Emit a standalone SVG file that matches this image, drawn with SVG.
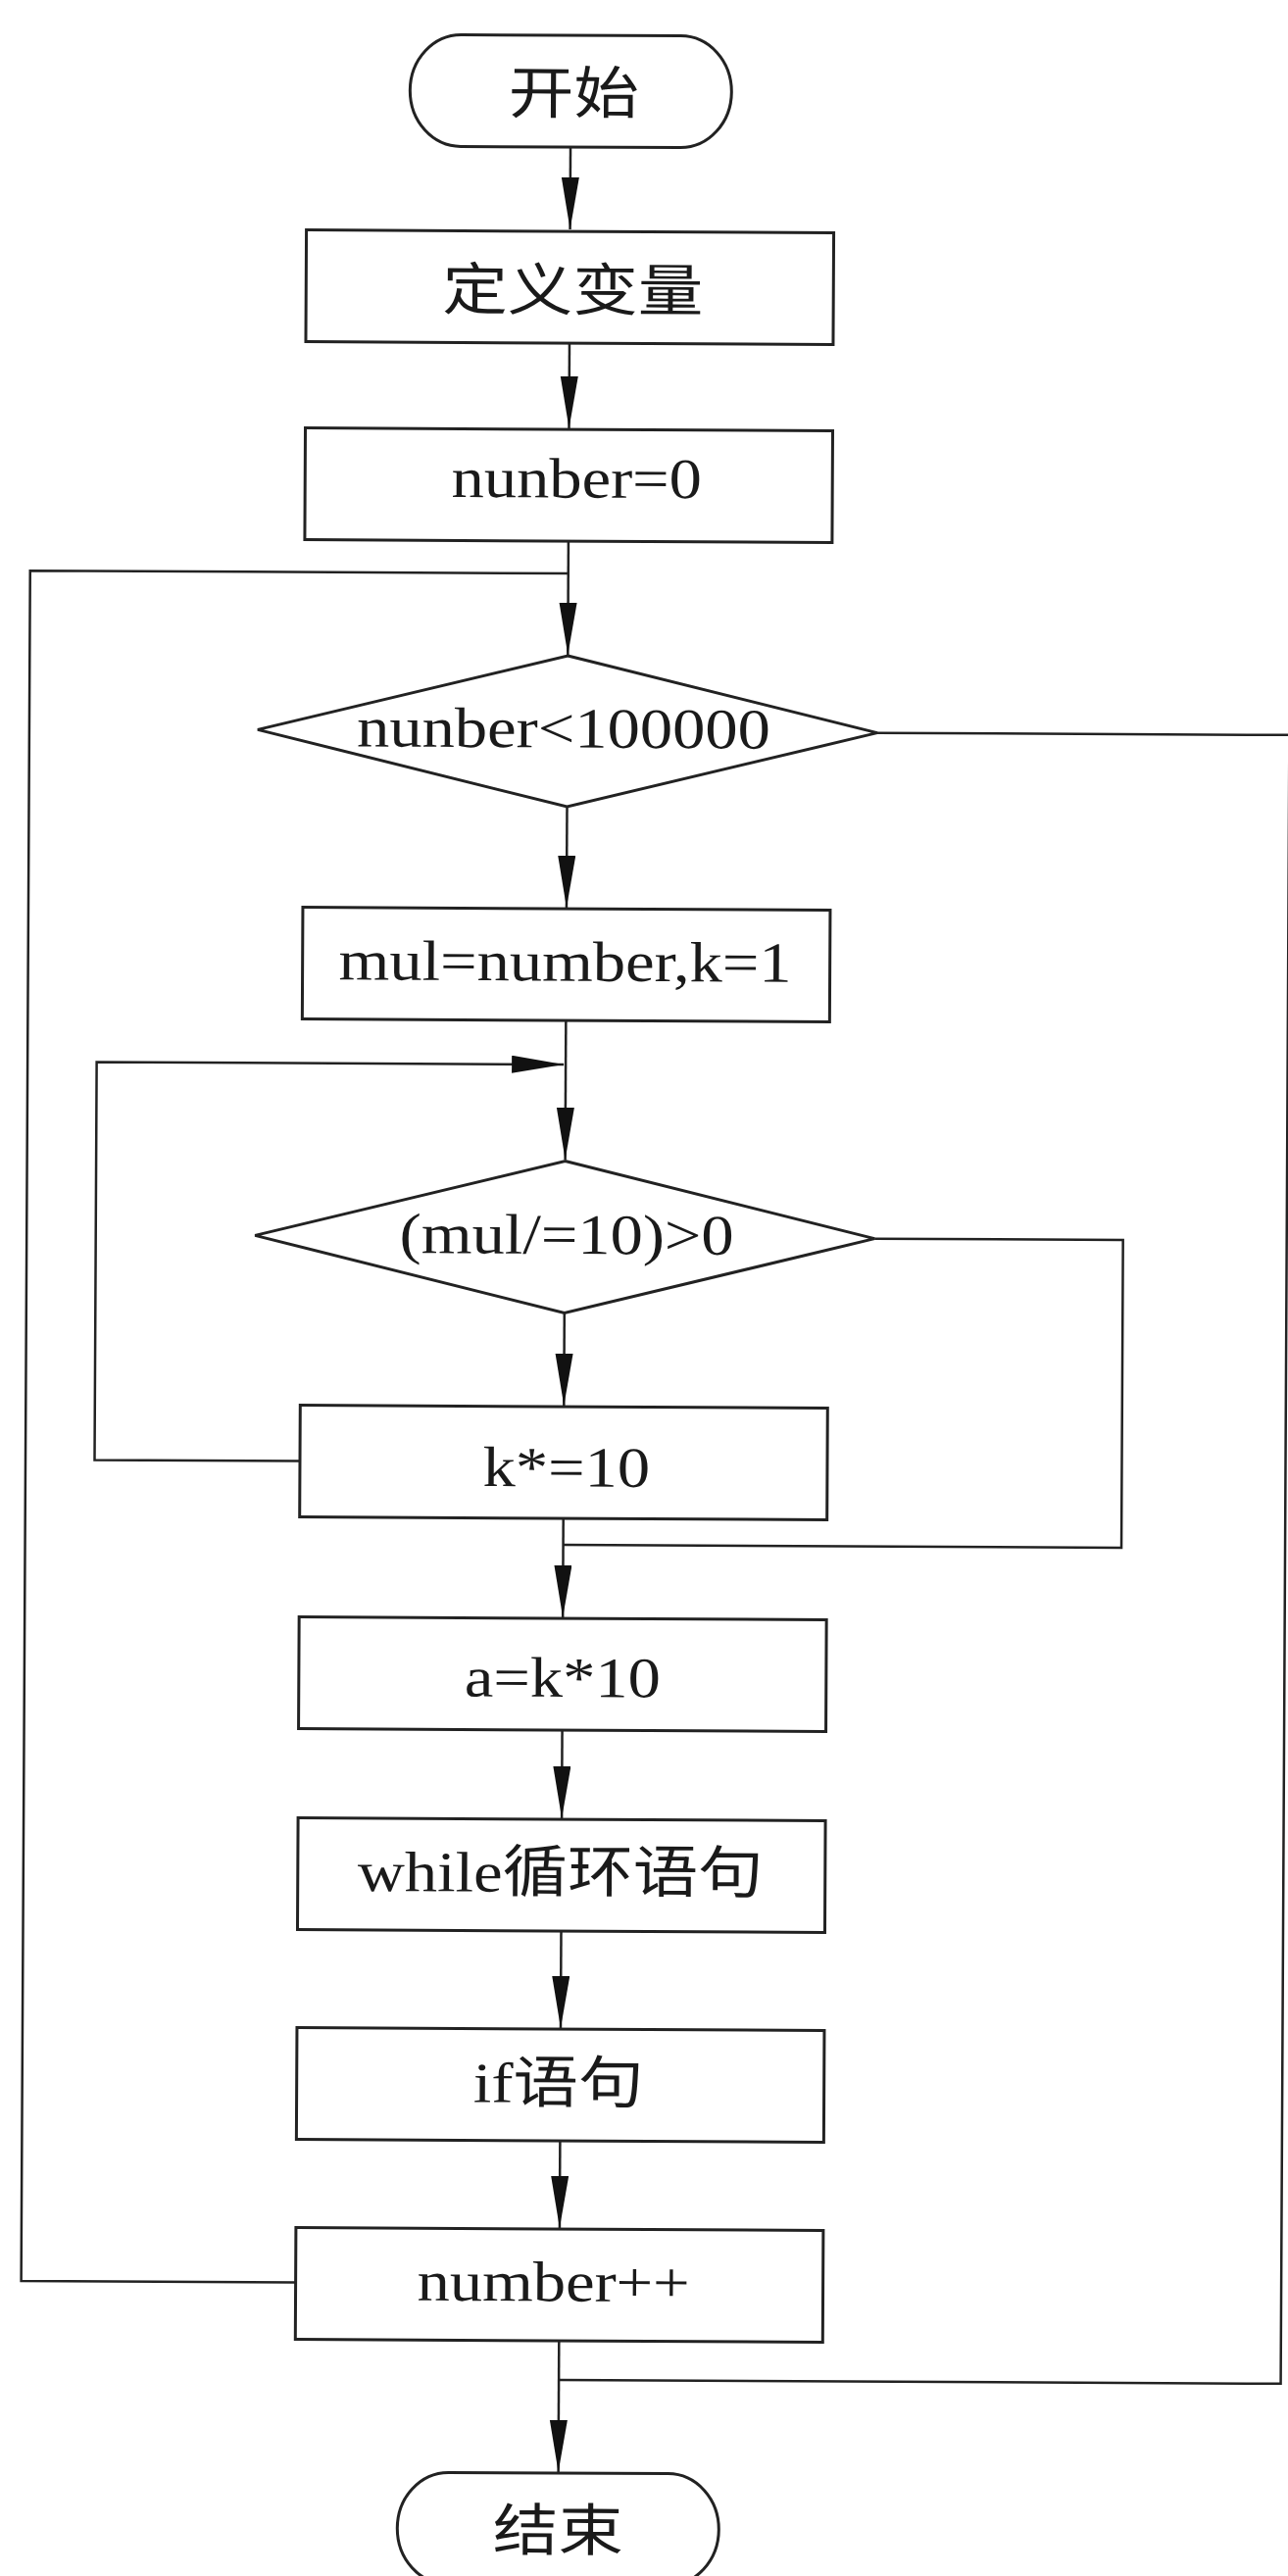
<svg xmlns="http://www.w3.org/2000/svg" width="1314" height="2628" viewBox="0 0 1314 2628">
<style>
.n rect, .n path { fill: #fff; stroke: #222; stroke-width: 3; }
.t { font-family: "Liberation Serif", "Noto Sans CJK SC", serif; font-size: 58px; fill: #1a1a1a; text-anchor: middle; }
.c path { fill: none; stroke: #222; stroke-width: 2.5; }
</style>
<defs>
<marker id="ah" markerUnits="userSpaceOnUse" markerWidth="54" markerHeight="20" refX="53" refY="9" orient="auto">
<path d="M0,0 L53,9 L0,18 z" fill="#111"/>
</marker>
</defs>
<rect width="1314" height="2628" fill="#fff"/>
<!-- whole chart sits slightly turned -->
<g transform="rotate(0.3 576 1300)">
<!-- connectors -->
<g id="connectors" class="c">
<path d="M576,150 V234" marker-end="url(#ah)"/>
<path d="M576,350 V437" marker-end="url(#ah)"/>
<path d="M576,552 V668" marker-end="url(#ah)"/>
<path d="M307,2330 H27 V585 H576"/>
<path d="M576,823 V926" marker-end="url(#ah)"/>
<path d="M576,1041 V1183" marker-end="url(#ah)"/>
<path d="M307,1492 H97.5 V1086 H574" marker-end="url(#ah)"/>
<path d="M576,1339.5 V1434" marker-end="url(#ah)"/>
<path d="M892,1262 H1145.5 V1576 H576"/>
<path d="M576,1549 V1650" marker-end="url(#ah)"/>
<path d="M576,1765 V1855" marker-end="url(#ah)"/>
<path d="M576,1970 V2069" marker-end="url(#ah)"/>
<path d="M576,2184 V2273" marker-end="url(#ah)"/>
<path d="M576,2388 V2522" marker-end="url(#ah)"/>
<path d="M892,746 H1312.5 V2428 H576"/>
</g>
<!-- nodes -->
<g id="start" class="n">
<rect x="412" y="36" width="328" height="114" rx="52" ry="57"/>
<text class="t" transform="translate(579,115.5) scale(1.147,1)">开始</text>
</g>
<g id="define" class="n">
<rect x="307" y="236" width="538" height="114"/>
<text class="t" transform="translate(579,316.5) scale(1.147,1)">定义变量</text>
</g>
<g id="init" class="n">
<rect x="307" y="438" width="538" height="114"/>
<text class="t" transform="translate(584,507.5) scale(1.147,1)">nunber=0</text>
</g>
<g id="cond-outer" class="n">
<path d="M576,669 L892,746 L576,823 L260,746 Z"/>
<text class="t" transform="translate(572,762.5) scale(1.147,1)">nunber&lt;100000</text>
</g>
<g id="assign" class="n">
<rect x="307" y="927" width="538" height="114"/>
<text class="t" transform="translate(575,1000.5) scale(1.147,1)">mul=number,k=1</text>
</g>
<g id="cond-inner" class="n">
<path d="M576,1184.5 L892,1262 L576,1339.5 L260,1262 Z"/>
<text class="t" transform="translate(578,1279) scale(1.147,1)">(mul/=10)&gt;0</text>
</g>
<g id="scale-k" class="n">
<rect x="307" y="1435" width="538" height="114"/>
<text class="t" transform="translate(579,1516.5) scale(1.147,1)">k*=10</text>
</g>
<g id="set-a" class="n">
<rect x="307" y="1651" width="538" height="114"/>
<text class="t" transform="translate(576,1731) scale(1.147,1)">a=k*10</text>
</g>
<g id="while-loop" class="n">
<rect x="307" y="1856" width="538" height="114"/>
<text class="t" transform="translate(575,1930) scale(1.147,1)">while循环语句</text>
</g>
<g id="if-stmt" class="n">
<rect x="307" y="2070" width="538" height="114"/>
<text class="t" transform="translate(574,2145) scale(1.147,1)">if语句</text>
</g>
<g id="increment" class="n">
<rect x="307" y="2274" width="538" height="114"/>
<text class="t" transform="translate(570,2347.5) scale(1.147,1)">number++</text>
</g>
<g id="end" class="n">
<rect x="412" y="2523" width="328" height="114" rx="52" ry="57"/>
<text class="t" transform="translate(576,2602) scale(1.147,1)">结束</text>
</g>
</g>
</svg>
